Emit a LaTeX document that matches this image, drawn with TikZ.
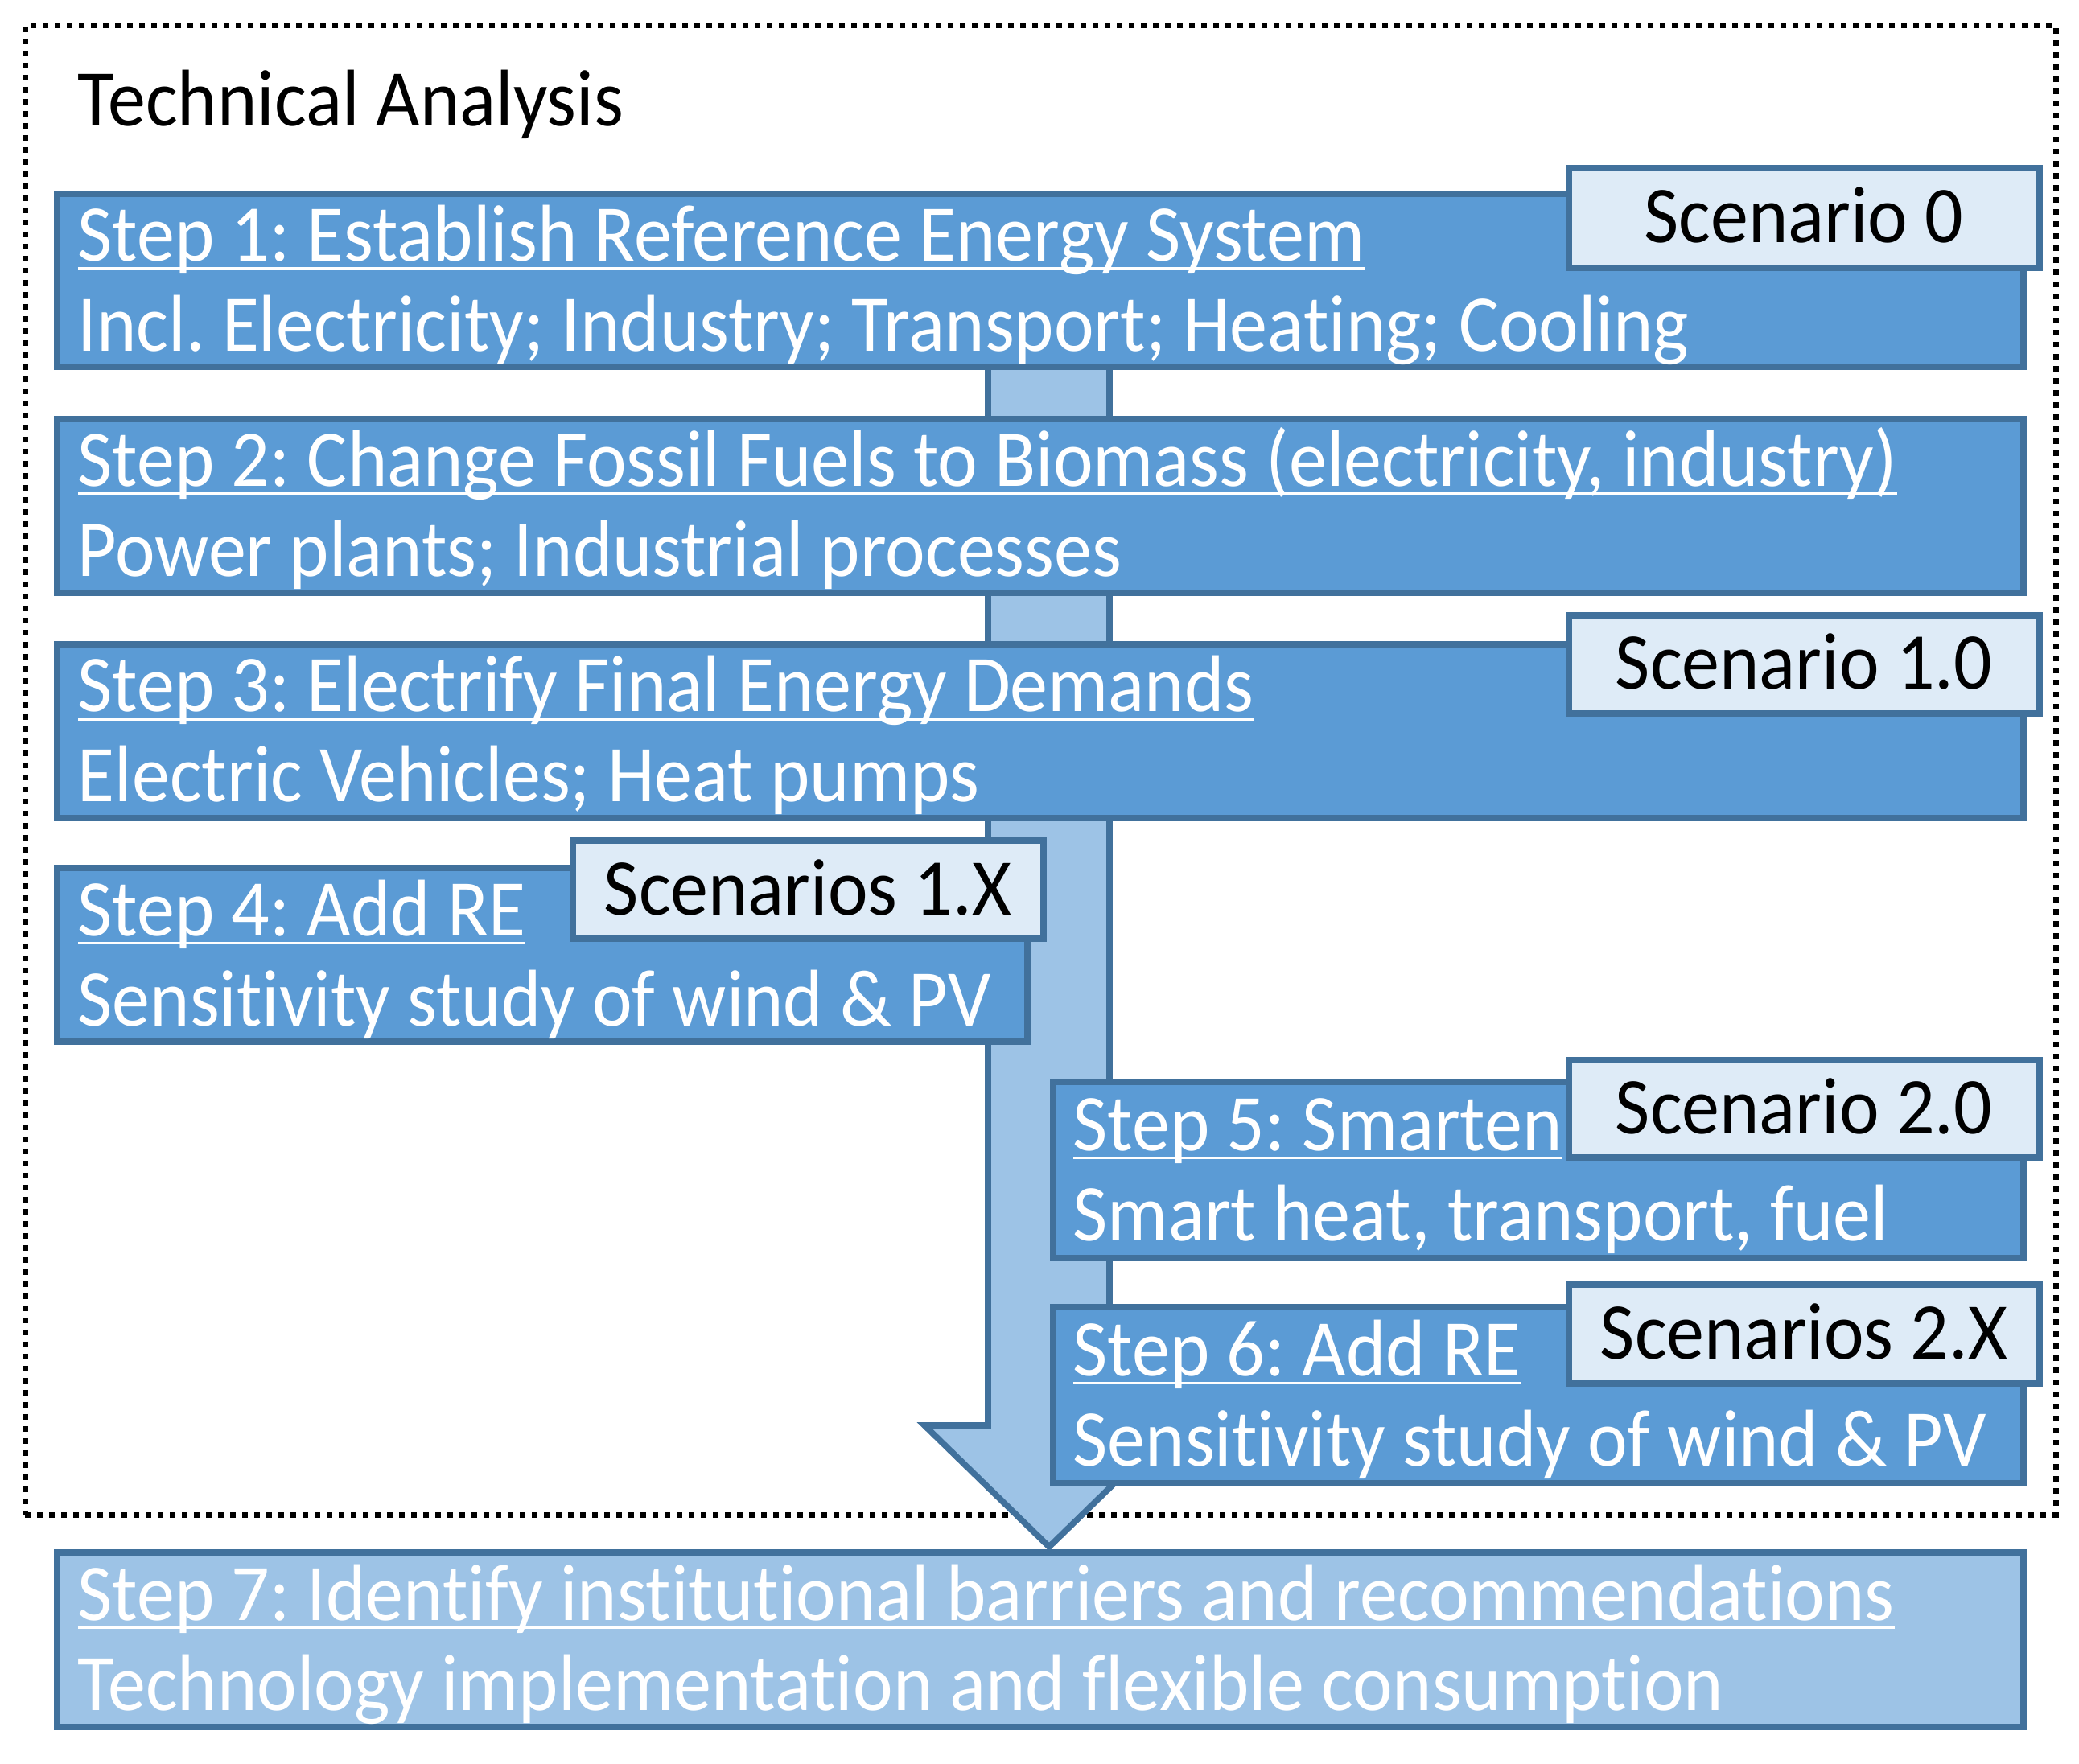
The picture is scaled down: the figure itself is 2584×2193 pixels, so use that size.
\documentclass[tikz,border=0pt]{standalone}
\usepackage{fontspec}
\setmainfont{Carlito}[FakeStretch=0.94, Ligatures=NoCommon]
\usetikzlibrary{fit}
\frenchspacing
\definecolor{stepfill}{HTML}{5B9BD5}
\definecolor{edgeblue}{HTML}{41719C}
\definecolor{scenfill}{HTML}{DEEBF7}
\definecolor{arrowfill}{HTML}{9DC3E6}
\newcommand\stepline[1]{\setbox0=\hbox{#1}\rlap{\rule[-0.11em]{\wd0}{0.035em}}\box0}
\tikzset{
  box/.style={draw=edgeblue, line width=1.9pt, inner sep=0pt},
  stepbox/.style={box, fill=stepfill},
  lastbox/.style={box, fill=arrowfill},
  scenbox/.style={box, fill=scenfill},
  framebox/.style={draw=black, line width=1.75pt, dash pattern=on 1.75pt off 2pt, inner sep=0pt},
  steptext/.style={anchor=base west, inner sep=0pt, text=white, font=\fontsize{25pt}{30pt}\selectfont},
  scentext/.style={anchor=base, inner sep=0pt, text=black, font=\fontsize{25pt}{30pt}\selectfont},
  titletext/.style={anchor=base west, inner sep=0pt, text=black, font=\fontsize{25pt}{30pt}\selectfont},
  bigarrow/.style={draw=edgeblue, fill=arrowfill, line width=1.9pt, line join=miter},
}
\begin{document}
\begin{tikzpicture}[x=0.25pt,y=-0.25pt]
\useasboundingbox (0,0) rectangle (2584,2193);
% dotted frame
\node[framebox, fit={(31,32)(2555,1883)}] (frame) {};
\node[titletext] (title) at (96,157) {Technical Analysis};
% block arrow
\coordinate (atop) at (1304,300);
\coordinate (atip) at (1304,1923);
\draw[bigarrow] (1228,300) -- (1228,1772) -- (1149,1772) -- (atip) -- (1459,1772) -- (1379,1772) -- (1379,300) -- cycle;
% step boxes
\node[stepbox, fit={(71,241)(2515,456)}] (s1) {};
\node[stepbox, fit={(71,521)(2515,737)}] (s2) {};
\node[stepbox, fit={(71,801)(2515,1017)}] (s3) {};
\node[stepbox, fit={(71,1079)(1277,1295)}] (s4) {};
\node[stepbox, fit={(1309,1345)(2515,1564)}] (s5) {};
\node[stepbox, fit={(1309,1625)(2515,1844)}] (s6) {};
\node[lastbox, fit={(71,1930)(2515,2147)}] (s7) {};
% scenario boxes
\node[scenbox, fit={(1950,209)(2535,333)}] (sc0) {};
\node[scenbox, fit={(1950,765)(2535,887)}] (sc1) {};
\node[scenbox, fit={(712,1045)(1297,1167)}] (sc1x) {};
\node[scenbox, fit={(1950,1318)(2535,1439)}] (sc2) {};
\node[scenbox, fit={(1950,1597)(2535,1720)}] (sc2x) {};
% step texts
\node[steptext] (t1a) at (96,325) {\stepline{Step 1: Establish Reference Energy System}};
\node[steptext] (t1b) at (96,437) {Incl. Electricity; Industry; Transport; Heating; Cooling};
\node[steptext] (t2a) at (96,605) {\stepline{Step 2: Change Fossil Fuels to Biomass (electricity, industry)}};
\node[steptext] (t2b) at (96,717) {Power plants; Industrial processes};
\node[steptext] (t3a) at (96,885) {\stepline{Step 3: Electrify Final Energy Demands}};
\node[steptext] (t3b) at (96,997) {Electric Vehicles; Heat pumps};
\node[steptext] (t4a) at (96,1163) {\stepline{Step 4: Add RE}};
\node[steptext] (t4b) at (96,1275) {Sensitivity study of wind \& PV};
\node[steptext] (t5a) at (1333,1430) {\stepline{Step 5: Smarten}};
\node[steptext] (t5b) at (1333,1542) {Smart heat, transport, fuel};
\node[steptext] (t6a) at (1333,1710) {\stepline{Step 6: Add RE}};
\node[steptext] (t6b) at (1333,1822) {Sensitivity study of wind \& PV};
\node[steptext] (t7a) at (96,2014) {\stepline{Step 7: Identify institutional barriers and recommendations}};
\node[steptext] (t7b) at (96,2126) {Technology implementation and flexible consumption};
% scenario texts
\node[scentext] (u0) at (2242,302) {Scenario 0};
\node[scentext] (u1) at (2242,857) {Scenario 1.0};
\node[scentext] (u1x) at (1004,1137) {Scenarios 1.X};
\node[scentext] (u2) at (2242,1409) {Scenario 2.0};
\node[scentext] (u2x) at (2242,1689) {Scenarios 2.X};
\end{tikzpicture}
\end{document}
